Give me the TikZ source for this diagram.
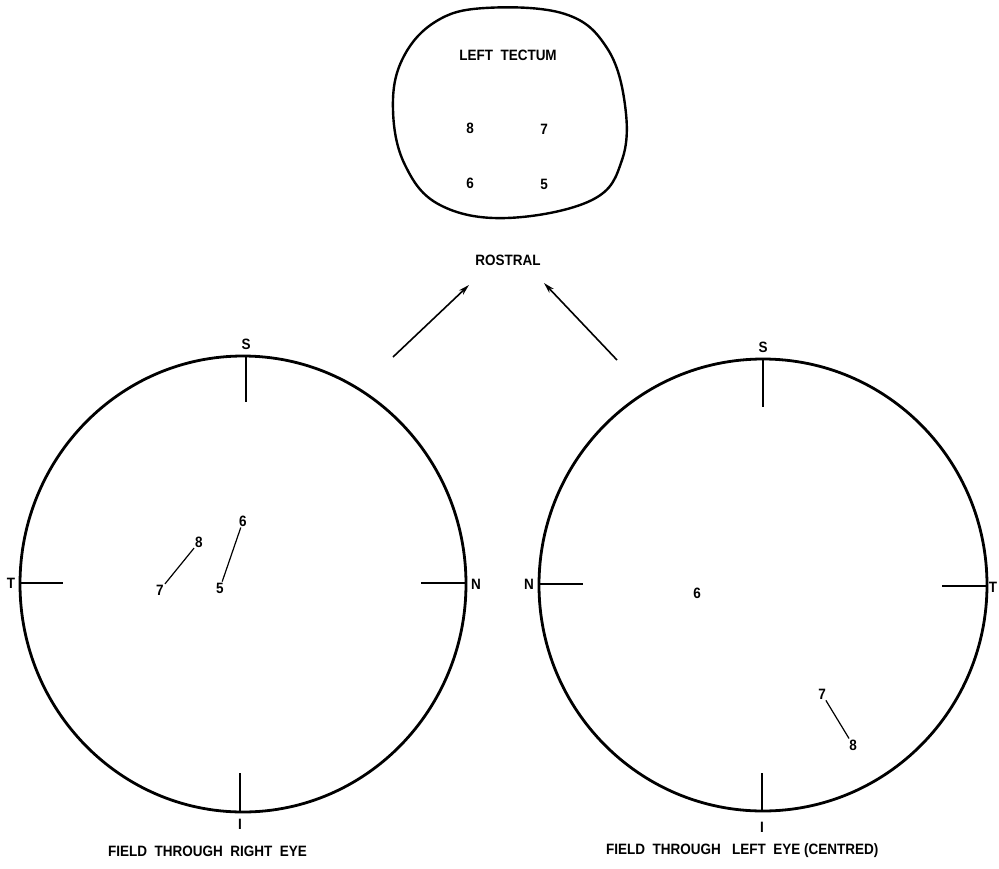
\documentclass[tikz,border=0pt]{standalone}
\usepackage{fontspec}
\setmainfont{Liberation Sans}[FakeStretch=0.9]
\usetikzlibrary{arrows.meta}
\begin{document}
\begin{tikzpicture}[x=1pt,y=-1pt,
  lbl/.style={font=\fontsize{15}{15}\selectfont\bfseries, inner sep=1pt},
  field/.style={line width=2.8pt},
  tick/.style={line width=1.3pt},
  seg/.style={line width=1.2pt},
  arr/.style={line width=1.6pt, -{Stealth[length=11pt,width=6pt]}}]
\useasboundingbox (0,0) rectangle (999,868);

% tectum outline
\draw[line width=2.4pt] plot[smooth cycle, tension=0.65] coordinates {
 (485,8) (565,14) (607,48) (625,105) (622,160) (592,200) (507,218)
 (440,205) (405,165) (393,110) (402,60) (435,22)};
\node[lbl] (tt) at (508,55) {LEFT\ \ TECTUM};
\node[lbl] (t8) at (470,128) {8};
\node[lbl] (t7) at (544,129) {7};
\node[lbl] (t6) at (470,183) {6};
\node[lbl] (t5) at (544,184) {5};

\node[lbl] (rost) at (508,260) {ROSTRAL};
\coordinate (la) at (393,357);
\coordinate (lb) at (469,285);
\coordinate (ra) at (617,360);
\coordinate (rb) at (544,283);
\draw[arr] (la) -- (lb);
\draw[arr] (ra) -- (rb);

% left field (right eye)
\draw[field] (243,584) ellipse [x radius=223, y radius=228];
\draw[tick] (246,356) -- (246,402);
\draw[tick] (20,583) -- (63,583);
\draw[tick] (421,583) -- (466,583);
\draw[tick] (240,773) -- (240,811);
\node[lbl] (ls) at (246,344) {S};
\node[lbl] (lt) at (11,583) {T};
\node[lbl] (ln) at (476,584) {N};
\node[lbl] (li) at (240,824) {I};
\node[lbl] (l8) at (199,542) {8};
\node[lbl] (l7) at (160,590) {7};
\node[lbl] (l6) at (243,521) {6};
\node[lbl] (l5) at (220,588) {5};
\draw[seg] (l7) -- (l8);
\draw[seg] (l5) -- (l6);
\node[lbl, anchor=west] (lcap) at (107,851) {FIELD\ \ THROUGH\ \ RIGHT\ \ EYE};

% right field (left eye)
\draw[field] (763,585) ellipse [x radius=224, y radius=226];
\draw[tick] (763,360) -- (763,407);
\draw[tick] (539,584) -- (583,584);
\draw[tick] (942,586) -- (986,586);
\draw[tick] (762,773) -- (762,811);
\node[lbl] (rs) at (763,347) {S};
\node[lbl] (rn) at (529,584) {N};
\node[lbl] (rt) at (993,587) {T};
\node[lbl] (ri) at (762,827) {I};
\node[lbl] (r6) at (697,593) {6};
\node[lbl] (r7) at (822,694) {7};
\node[lbl] (r8) at (853,745) {8};
\draw[seg] (r7) -- (r8);
\node[lbl, anchor=west] (rcap) at (605,851) {FIELD\ \ THROUGH\ \ \ LEFT\ \ EYE\ (CENTRED)};
\end{tikzpicture}
\end{document}
